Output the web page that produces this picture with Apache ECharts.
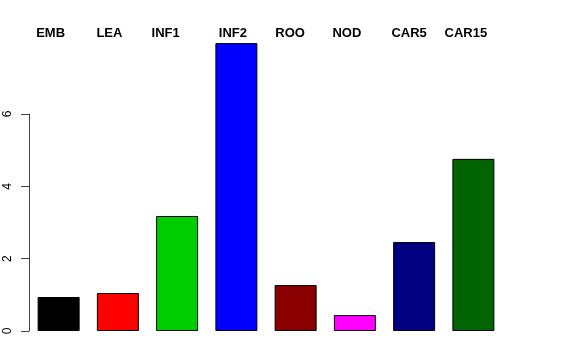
<!DOCTYPE html>
<html><head><meta charset="utf-8">
<script src="https://cdn.jsdelivr.net/npm/echarts@6/dist/echarts.min.js"></script>
<style>html,body{margin:0;padding:0;background:#fff}#c{width:576px;height:360px}</style>
</head><body><div id="c"></div>
<script>
const categories = ['EMB','LEA','INF1','INF2','ROO','NOD','CAR5','CAR15'];
const values = [0.94, 1.05, 3.18, 7.96, 1.27, 0.44, 2.46, 4.76];
const yTicks = [0, 2, 4, 6];
const colors = ['#000000','#FF0000','#00CD00','#0000FF','#8B0000','#FF00FF','#000080','#006400'];
// label horizontal nudges (px, leftward)
const labelShift = [8, 8.5, 11.5, 3.5, 5.5, 8, 5, 7.5];

const chart = echarts.init(document.getElementById('c'), null, {renderer:'canvas'});
const font = 'Liberation Sans, Arial, Helvetica, sans-serif';
const pxPerUnit = 217/6;
const barMax = 8.2;
const bottom = 29;
const barTop = 360 - bottom - barMax*pxPerUnit;

chart.setOption({
  animation: false,
  color: colors,
  grid: [
    {left: 29, width: 474, top: barTop, bottom: bottom},
    {left: 29, width: 474, top: 360 - bottom - 6*pxPerUnit, bottom: bottom},
    {left: 29, width: 474, top: 40, height: 10}
  ],
  xAxis: [
    {type:'category', gridIndex:0, data: categories, show:false, boundaryGap:true},
    {type:'value', gridIndex:1, show:false},
    {type:'category', gridIndex:2, position:'top', data: categories.map((c,i)=>({value:c, textStyle:{padding:[0, 2*labelShift[i], 0, 0]}})),
      axisLine:{show:false}, axisTick:{show:false},
      axisLabel:{margin:0, fontFamily:font, fontSize:13, fontWeight:'bold', color:'#000', interval:0}}
  ],
  yAxis: [
    {type:'value', gridIndex:0, min:0, max:barMax, show:false},
    {type:'value', gridIndex:1, min:yTicks[0], max:yTicks[yTicks.length-1], interval:2,
      axisLine:{show:true, lineStyle:{color:'#444', width:1}},
      axisTick:{show:true, inside:false, length:8, lineStyle:{color:'#444'}},
      splitLine:{show:false},
      axisLabel:{rotate:90, margin:15, fontFamily:font, fontSize:12, color:'#000'}},
    {type:'value', gridIndex:2, show:false}
  ],
  series: [
    {type:'bar', xAxisIndex:0, yAxisIndex:0, data: values, colorBy:'data', barWidth:42,
      itemStyle:{borderColor:'#000', borderWidth:1}},
    {type:'scatter', xAxisIndex:1, yAxisIndex:1, data: []},
    {type:'scatter', xAxisIndex:2, yAxisIndex:2, data: []}
  ]
});
</script></body></html>
